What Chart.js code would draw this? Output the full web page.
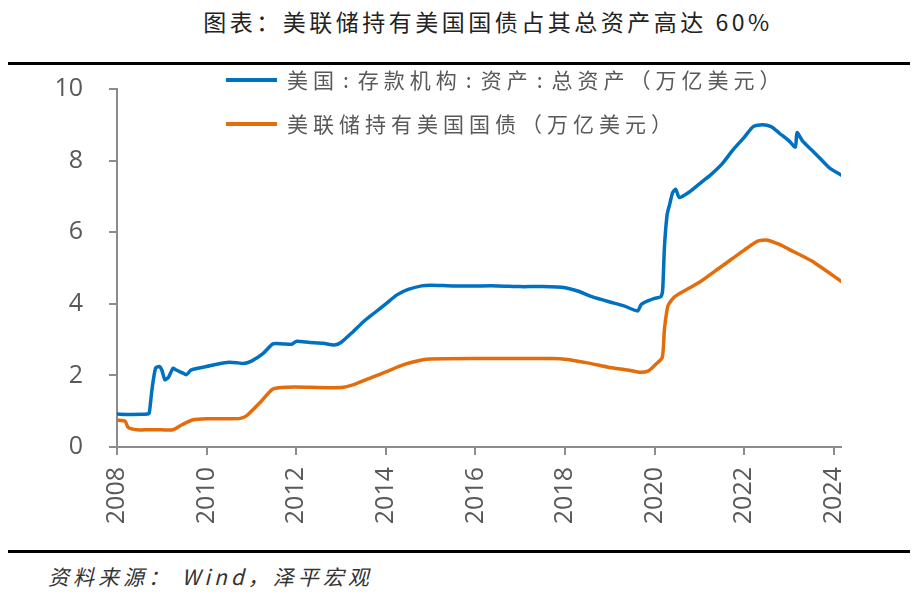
<!DOCTYPE html>
<html>
<head>
<meta charset="utf-8">
<script src="https://cdn.jsdelivr.net/npm/chart.js@4.4.1/dist/chart.umd.min.js"></script>
<style>
  body { margin: 0; width: 918px; height: 597px; background: #fff; position: relative; overflow: hidden; }
  #title { position: absolute; left: 0; width: 976px; top: 4px; text-align: center;
           font: 23px "Noto Sans CJK SC"; letter-spacing: 3.5px; color: #222; }
  .rule { position: absolute; left: 8px; width: 902px; height: 3px; background: #000; }
  #box { position: absolute; left: 0; top: 66px; width: 918px; height: 482px; }
  #legend { position: absolute; left: 226px; top: 66px; }
  .item { position: absolute; left: 0; white-space: nowrap; height: 30px; }
  .item i { position: absolute; left: 0; top: 12px; width: 51px; height: 4px; }
  .item span { position: absolute; left: 61px; top: -2px; font: 21px "Noto Sans CJK SC";
               letter-spacing: 5px; color: #595959; }
  .item b { font-weight: normal; padding: 0 4px; }
  #source { position: absolute; left: 48px; top: 561px; font: italic 21px "Noto Sans CJK SC", "Liberation Serif";
            color: #333; letter-spacing: 4px; }
</style>
</head>
<body>
<div id="title">图表：美联储持有美国国债占其总资产高达 60%</div>
<div class="rule" style="top:62px"></div>
<div id="box"><canvas id="chart"></canvas></div>
<div id="legend"></div>
<div class="rule" style="top:550px"></div>
<div id="source">资料来源： Wind，泽平宏观</div>
<script>
// years as decimals, values in trillion USD
const totalDates = [2008.0, 2008.3, 2008.68, 2008.72, 2008.78, 2008.86, 2008.95, 2009.0, 2009.07, 2009.15, 2009.25,
  2009.32, 2009.45, 2009.55, 2009.65, 2009.8, 2010.0, 2010.25, 2010.5, 2010.7, 2010.82, 2011.0, 2011.25, 2011.48,
  2011.7, 2011.9, 2012.0, 2012.3, 2012.6, 2012.85, 2013.0, 2013.25, 2013.5, 2013.75, 2014.0, 2014.25, 2014.5,
  2014.8, 2015.0, 2015.5, 2016.0, 2016.5, 2017.0, 2017.5, 2018.0, 2018.3, 2018.6, 2019.0, 2019.3, 2019.62,
  2019.7, 2019.85, 2020.0, 2020.14, 2020.18, 2020.22, 2020.28, 2020.34, 2020.4, 2020.47, 2020.55, 2020.75,
  2021.0, 2021.25, 2021.5, 2021.75, 2022.0, 2022.2, 2022.4, 2022.6, 2022.8, 2023.0, 2023.14, 2023.18, 2023.3,
  2023.5, 2023.7, 2023.9, 2024.16];
const totalValues = [0.92, 0.91, 0.92, 0.95, 1.6, 2.2, 2.25, 2.15, 1.88, 1.95, 2.2,
  2.15, 2.08, 2.02, 2.15, 2.2, 2.25, 2.32, 2.37, 2.35, 2.33, 2.4, 2.6, 2.88,
  2.88, 2.87, 2.95, 2.92, 2.9, 2.85, 2.92, 3.2, 3.5, 3.75, 4.0, 4.25, 4.4,
  4.5, 4.52, 4.5, 4.5, 4.5, 4.48, 4.48, 4.45, 4.35, 4.2, 4.05, 3.95, 3.8,
  3.98, 4.08, 4.15, 4.2, 4.4, 5.6, 6.5, 6.8, 7.1, 7.2, 6.97, 7.1,
  7.35, 7.6, 7.9, 8.3, 8.65, 8.95, 9.0, 8.95, 8.75, 8.55, 8.38, 8.78, 8.55,
  8.3, 8.05, 7.8, 7.6];

const treasuryDates = [2008.0, 2008.18, 2008.25, 2008.45, 2008.7, 2009.0, 2009.25, 2009.45, 2009.7, 2010.0,
  2010.5, 2010.75, 2010.9, 2011.2, 2011.48, 2011.8, 2012.3, 2013.0, 2013.3, 2013.7, 2014.0, 2014.4, 2014.8,
  2015.0, 2016.0, 2017.0, 2017.7, 2018.0, 2018.5, 2019.0, 2019.4, 2019.65, 2019.85, 2020.0, 2020.17,
  2020.22, 2020.3, 2020.45, 2021.0, 2021.5, 2022.0, 2022.3, 2022.5, 2022.8, 2023.0, 2023.5, 2024.16];
const treasuryValues = [0.75, 0.72, 0.55, 0.48, 0.48, 0.48, 0.48, 0.62, 0.76, 0.79,
  0.79, 0.8, 0.88, 1.25, 1.62, 1.67, 1.67, 1.66, 1.75, 1.95, 2.1, 2.3, 2.43,
  2.46, 2.47, 2.47, 2.47, 2.45, 2.35, 2.22, 2.15, 2.09, 2.12, 2.28, 2.5,
  3.3, 3.95, 4.2, 4.6, 5.05, 5.5, 5.75, 5.78, 5.65, 5.52, 5.2, 4.63];

const xTicks = [2008, 2010, 2012, 2014, 2016, 2018, 2020, 2022, 2024];
const yTicks = [0, 2, 4, 6, 8, 10];

const seriesNames = ['美国:存款机构:资产:总资产（万亿美元）', '美联储持有美国国债（万亿美元）'];
const seriesColors = ['#0070C0', '#E46C0A'];

function pairs(xs, ys) {
  return xs.map((x, i) => ({x: x, y: ys[i]}));
}

const axisColor = '#8c8c8c';

new Chart(document.getElementById('chart'), {
  type: 'line',
  data: {
    datasets: [
      {label: seriesNames[0], data: pairs(totalDates, totalValues), borderColor: seriesColors[0]},
      {label: seriesNames[1], data: pairs(treasuryDates, treasuryValues), borderColor: seriesColors[1]}
    ]
  },
  options: {
    responsive: true,
    maintainAspectRatio: false,
    animation: false,
    elements: {
      point: {radius: 0},
      line: {borderWidth: 3.5, tension: 0.2, borderJoinStyle: 'round', borderCapStyle: 'round'}
    },
    layout: {padding: {top: 23, right: 77, left: 0, bottom: 0}},
    plugins: {legend: {display: false}, tooltip: {enabled: false}},
    scales: {
      x: {
        type: 'linear',
        min: 2008,
        max: 2024.16,
        afterBuildTicks: s => { s.ticks = xTicks.map(v => ({value: v})); },
        afterFit: s => { s.height = 101; },
        border: {color: axisColor, width: 2},
        grid: {drawOnChartArea: false, color: axisColor, tickLength: 8, lineWidth: 2},
        ticks: {color: '#595959', font: {family: 'Open Sans', size: 25}, maxRotation: 90, minRotation: 90,
                padding: 12, autoSkip: false, callback: v => String(v)}
      },
      y: {
        min: 0,
        max: 10,
        afterBuildTicks: s => { s.ticks = yTicks.map(v => ({value: v})); },
        // fixed width; drop the label overhang so the plot top stays put
        afterFit: s => { s.width = 117; s.paddingTop = 0; s.paddingBottom = 0; },
        border: {color: axisColor, width: 2},
        grid: {drawOnChartArea: false, color: axisColor, tickLength: 8, lineWidth: 2},
        ticks: {color: '#595959', font: {family: 'Open Sans', size: 25}, padding: 26}
      }
    }
  }
});

// legend drawn from the series names
const legend = document.getElementById('legend');
seriesNames.forEach((name, i) => {
  const item = document.createElement('div');
  item.className = 'item';
  item.style.top = (i * 44) + 'px';
  item.innerHTML = '<i style="background:' + seriesColors[i] + '"></i><span>' +
    name.split(':').join('<b>:</b>') + '</span>';
  legend.appendChild(item);
});
</script>
</body>
</html>
